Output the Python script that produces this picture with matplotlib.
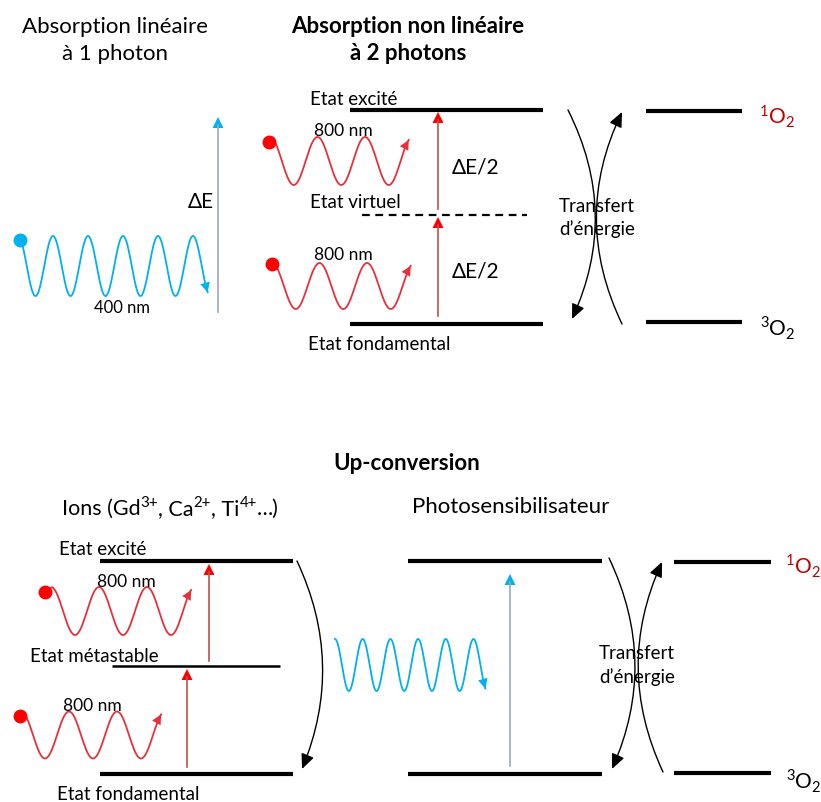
import numpy as np
import matplotlib
matplotlib.use("Agg")
import matplotlib.pyplot as plt
from matplotlib.patches import FancyArrowPatch, Polygon

plt.rcParams['font.family'] = ['Lato', 'DejaVu Sans']

# colours
BLUE = '#00b0f0'
RED_WAVE = '#e6313d'
RED_DOT = '#ff0000'
RED_HEAD = '#ff0000'
RED_SHAFT = '#c0504d'
BLUE_SHAFT = '#92aabb'
O2_RED = '#c00000'

# energy levels: (x_start, x_end, y, linewidth)
levels = [
    (350, 543, 111, 3.0), (350, 543, 325, 3.0),      # 2-photon
    (646, 742, 112, 3.0), (646, 742, 323, 3.0),      # O2 top
    (100, 293, 562, 3.0), (112, 280, 667, 1.8), (100, 293, 775, 3.0),  # ions
    (408, 602, 562, 3.0), (408, 602, 775, 3.0),      # photosensitizer
    (674, 771, 563, 3.0), (674, 771, 774, 3.0),      # O2 bottom
]
virtual_level = (362, 527, 216)

# waves: crest x0, period, centre, amplitude, start phase, end phase, colour, dot
waves = [
    (18, 35, 267, 30, 0.03, 5.42, BLUE, (20, 241)),
    (270, 47.5, 162, 24, 0.02, 2.92, RED_WAVE, (269, 143)),
    (272, 47.5, 287, 23, 0.08, 2.92, RED_WAVE, (272, 265)),
    (51, 48, 612, 24, 0.02, 2.92, RED_WAVE, (45, 593)),
    (21, 48, 736, 23.5, 0.05, 2.92, RED_WAVE, (20, 717)),
    (335, 27.7, 666, 26, 0.0, 5.43, BLUE, None),
]

# vertical absorption arrows: x, y_from, y_to, shaft colour, head colour
v_arrows = [
    (218, 313, 118, BLUE_SHAFT, BLUE),
    (438, 210, 113, RED_SHAFT, RED_HEAD),
    (438, 317, 218, RED_SHAFT, RED_HEAD),
    (209, 662, 565, RED_SHAFT, RED_HEAD),
    (187, 768, 670, RED_SHAFT, RED_HEAD),
    (510, 767, 575, BLUE_SHAFT, BLUE),
]

# curved transfer arrows: start, end, rad
arcs = [
    ((568, 111), (572, 320), -0.24),
    ((622, 325), (622, 113), -0.24),
    ((297, 562), (302, 770), -0.22),
    ((609, 559), (612, 770), -0.23),
    ((663, 773), (662, 563), -0.23),
]

# plain texts: x, y(baseline), string, size, weight, ha
texts = [
    (115, 33, 'Absorption linéaire', 16, 'normal', 'center'),
    (115, 60, 'à 1 photon', 16, 'normal', 'center'),
    (408, 33, 'Absorption non linéaire', 16, 'bold', 'center'),
    (408, 60, 'à 2 photons', 16, 'bold', 'center'),
    (214, 208, 'ΔE', 15, 'normal', 'right'),
    (94, 313, '400 nm', 12, 'normal', 'left'),
    (310, 105, 'Etat excité', 13.5, 'normal', 'left'),
    (314, 136, '800 nm', 12.5, 'normal', 'left'),
    (310, 208, 'Etat virtuel', 13.5, 'normal', 'left'),
    (452, 174, 'ΔE/2', 15, 'normal', 'left'),
    (314, 260, '800 nm', 12.5, 'normal', 'left'),
    (452, 278, 'ΔE/2', 15, 'normal', 'left'),
    (308, 350, 'Etat fondamental', 13.5, 'normal', 'left'),
    (597, 212, 'Transfert', 13.5, 'normal', 'center'),
    (597, 235, 'd’énergie', 13.5, 'normal', 'center'),
    (407, 470, 'Up-conversion', 16, 'bold', 'center'),
    (511, 513, 'Photosensibilisateur', 16, 'normal', 'center'),
    (59, 555, 'Etat excité', 13.5, 'normal', 'left'),
    (97, 587, '800 nm', 12.5, 'normal', 'left'),
    (30, 662, 'Etat métastable', 13.5, 'normal', 'left'),
    (63, 711, '800 nm', 12.5, 'normal', 'left'),
    (57, 800, 'Etat fondamental', 13.5, 'normal', 'left'),
    (637, 659, 'Transfert', 13.5, 'normal', 'center'),
    (637, 683, 'd’énergie', 13.5, 'normal', 'center'),
]

# texts with super/subscripts: x, y(baseline), parts, size, colour
rich_texts = [
    (760, 123, [('1', 'sup'), ('O', ''), ('2', 'sub')], 15, O2_RED),
    (760, 335, [('3', 'sup'), ('O', ''), ('2', 'sub')], 15, 'black'),
    (786, 573, [('1', 'sup'), ('O', ''), ('2', 'sub')], 15, O2_RED),
    (786, 788, [('3', 'sup'), ('O', ''), ('2', 'sub')], 15, 'black'),
    (62, 515, [('Ions (Gd', ''), ('3+', 'sup'), (', Ca', ''), ('2+', 'sup'),
               (', Ti', ''), ('4+', 'sup'), ('…)', '')], 15.5, 'black'),
]

fig = plt.figure(figsize=(8.21, 8.03), dpi=100)
ax = fig.add_axes([0, 0, 1, 1])
ax.set_xlim(0, 821)
ax.set_ylim(803, 0)
ax.axis('off')
renderer = fig.canvas.get_renderer()

for x1, x2, y, lw in levels:
    ax.plot([x1, x2], [y, y], color='black', lw=lw, solid_capstyle='butt')
vx1, vx2, vy = virtual_level
ax.plot([vx1, vx2], [vy, vy], color='black', lw=1.6, dashes=(3.5, 2.5))

for x0, per, c, amp, ph0, ph1, col, dot in waves:
    xs = np.linspace(x0 + ph0 * per, x0 + ph1 * per, 400)
    ys = c - amp * np.cos(2 * np.pi * (xs - x0) / per)
    if dot is not None:
        xs = np.insert(xs, 0, dot[0])
        ys = np.insert(ys, 0, dot[1])
    ax.plot(xs, ys, color=col, lw=1.3)
    ax.add_patch(FancyArrowPatch((xs[-6], ys[-6]), (xs[-1], ys[-1]),
                                 arrowstyle='-|>,head_length=0.7,head_width=0.35',
                                 mutation_scale=10, color=col, lw=0,
                                 shrinkA=0, shrinkB=0))
    if dot is not None:
        ax.plot(*dot, 'o', color=RED_DOT if col == RED_WAVE else col,
                ms=10, mec='none', zorder=3)

for x, y0, y1, sc, hc in v_arrows:
    ax.plot([x, x], [y0, y1 + 8], color=sc, lw=1.2)
    ax.add_patch(Polygon([[x - 5.5, y1 + 11], [x + 5.5, y1 + 11], [x, y1]],
                         closed=True, color=hc, lw=0))

for p0, p1, rad in arcs:
    ax.add_patch(FancyArrowPatch(p0, p1, connectionstyle=f'arc3,rad={rad}',
                                 arrowstyle='-|>,head_length=0.9,head_width=0.4',
                                 mutation_scale=10, color='black', lw=1.0,
                                 shrinkA=0, shrinkB=0))

for x, y, s, size, w, ha in texts:
    ax.text(x, y, s, fontsize=size, fontweight=w, ha=ha, va='baseline')

# draw sub/superscripts piece by piece
for x, y, parts, size, col in rich_texts:
    em = size * 100 / 72
    cx = x
    for s, kind in parts:
        fs = size * 0.7 if kind else size
        dy = {'': 0, 'sup': -0.36 * em, 'sub': 0.17 * em}[kind]
        t = ax.text(cx, y + dy, s, fontsize=fs, color=col, va='baseline')
        cx += t.get_window_extent(renderer).width

fig.savefig('out.png', dpi=100)
